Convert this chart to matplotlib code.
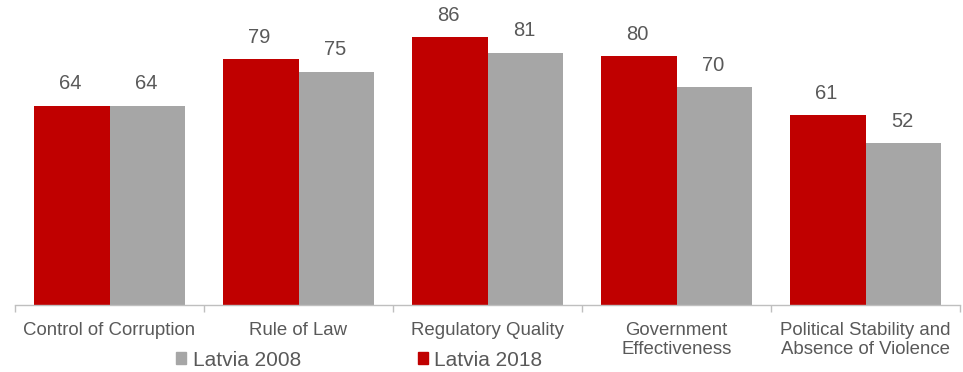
import matplotlib
matplotlib.use("Agg")
import matplotlib.pyplot as plt
from matplotlib.patches import Patch
import numpy as np

categories = ["Control of Corruption", "Rule of Law", "Regulatory Quality",
              "Government\nEffectiveness", "Political Stability and\nAbsence of Violence"]
latvia_2018 = [64, 79, 86, 80, 61]
latvia_2008 = [64, 75, 81, 70, 52]

RED = "#C00000"
GRAY = "#A6A6A6"
TXT = "#595959"

plt.rcParams['font.family'] = ['Liberation Sans', 'DejaVu Sans']

W, H = 963, 372
fig = plt.figure(figsize=(W / 100, H / 100), dpi=100)
ax = fig.add_axes([15 / W, (H - 305) / H, 945 / W, 305 / H])

x = np.arange(len(categories))
w = 0.4
b1 = ax.bar(x - w / 2, latvia_2018, w, color=RED, label="Latvia 2018")
b2 = ax.bar(x + w / 2, latvia_2008, w, color=GRAY, label="Latvia 2008")

for bars in (b1, b2):
    for r in bars:
        ax.annotate(f"{r.get_height():.0f}", (r.get_x() + r.get_width() / 2, r.get_height()),
                    xytext=(-1, 9), textcoords="offset points", ha="center", va="bottom",
                    fontsize=14.5, color=TXT)

ax.set_xlim(-0.5, len(categories) - 0.5)
ax.set_ylim(0, 98)
ax.set_yticks([])
for s in ("top", "right", "left"):
    ax.spines[s].set_visible(False)
ax.spines["bottom"].set_color("#BFBFBF")
ax.spines["bottom"].set_linewidth(1.0)

ax.set_xticks(x)
ax.set_xticklabels(categories, fontsize=13.4, color=TXT, linespacing=1.15)
ax.tick_params(axis="x", which="major", length=0, pad=12)
ax.set_xticks(np.arange(len(categories) + 1) - 0.5, minor=True)
ax.tick_params(axis="x", which="minor", length=5, color="#BFBFBF", width=1.0)

handles = [Patch(color=GRAY, label="Latvia 2008"), Patch(color=RED, label="Latvia 2018")]
fig.legend(handles=handles, loc="center left", bbox_to_anchor=(176 / W, 1 - 360 / H),
           ncol=2, frameon=False, fontsize=15, handlelength=0.5, handleheight=0.5,
           handletextpad=0.3, columnspacing=5.6, labelcolor=TXT, borderaxespad=0,
           borderpad=0)

fig.savefig("out.png", dpi=100)
